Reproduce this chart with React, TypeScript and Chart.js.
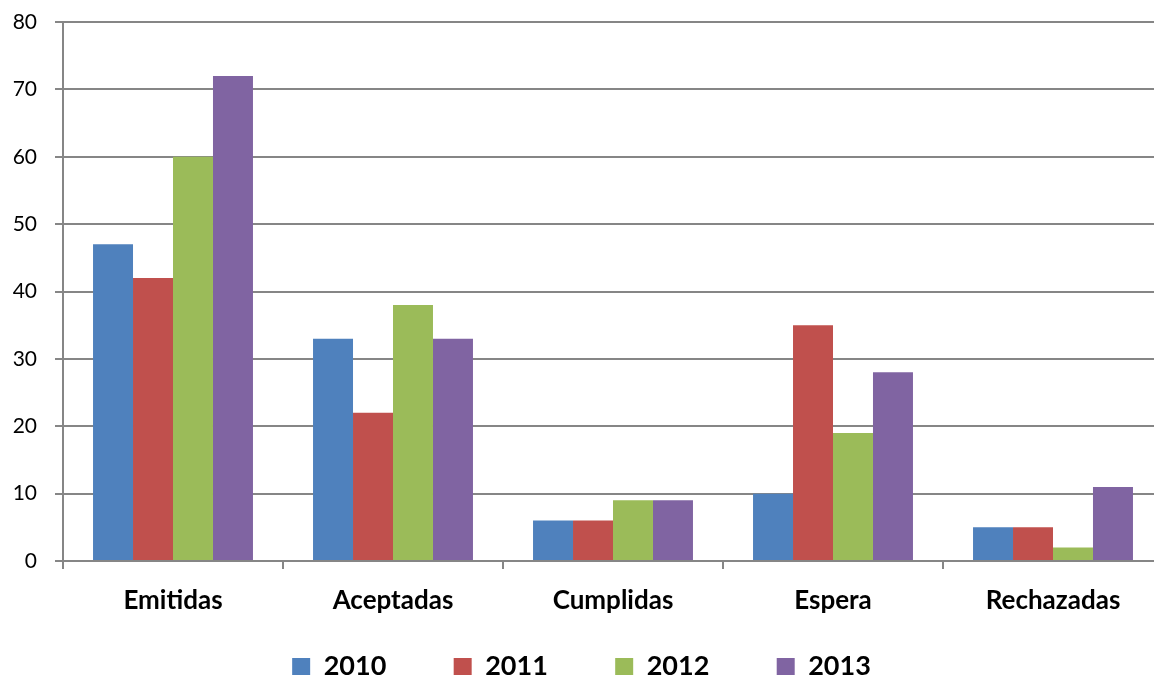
import React, { useEffect, useRef } from "react";
import { Chart, registerables } from "chart.js";

Chart.register(...registerables);

const categories = ["Emitidas", "Aceptadas", "Cumplidas", "Espera", "Rechazadas"];
const seriesNames = ["2010", "2011", "2012", "2013"];
const values2010 = [47, 33, 6, 10, 5];
const values2011 = [42, 22, 6, 35, 5];
const values2012 = [60, 38, 9, 19, 2];
const values2013 = [72, 33, 9, 28, 11];
const colors = ["#4F81BD", "#C0504D", "#9BBB59", "#8064A2"];

const FONT = "Lato, 'Open Sans', sans-serif";
const LEGEND_GAP = "\u2002\u2002\u2002\u2002\u2009";

export default function App() {
  const ref = useRef<HTMLCanvasElement | null>(null);
  useEffect(() => {
    if (!ref.current) return;
    const all = [values2010, values2011, values2012, values2013];
    const chart = new Chart(ref.current, {
      type: "bar",
      data: {
        labels: categories,
        datasets: seriesNames.map((n, i) => ({
          label: n,
          data: all[i],
          backgroundColor: colors[i],
          borderWidth: 0,
          categoryPercentage: 0.727,
          barPercentage: 1.0,
        })),
      },
      options: {
        responsive: false,
        animation: false,
        devicePixelRatio: 1,
        layout: { padding: { top: 22, right: 1, left: 0, bottom: 0 } },
        plugins: {
          tooltip: { enabled: false },
          legend: {
            position: "bottom",
            maxHeight: 34,
            labels: {
              boxWidth: 18,
              boxHeight: 17,
              padding: 10,
              color: "#000",
              font: { family: FONT, size: 27, weight: "bold" },
              generateLabels: (c: any) =>
                c.data.datasets.map((d: any, i: number) => ({
                  text: i < 3 ? d.label + LEGEND_GAP : d.label,
                  fillStyle: colors[i],
                  strokeStyle: colors[i],
                  lineWidth: 0,
                  hidden: false,
                  datasetIndex: i,
                  fontColor: "#000",
                })),
            },
          },
        },
        scales: {
          x: {
            offset: true,
            grid: {
              offset: true,
              drawOnChartArea: false,
              drawTicks: true,
              tickLength: 8,
              color: "#868686",
              lineWidth: 2,
            },
            border: { display: true, color: "#868686", width: 2 },
            ticks: {
              color: "#000",
              padding: 16,
              font: { family: FONT, size: 26, weight: "bold" },
            },
            afterFit: (s: any) => {
              s.height = 82;
              s.paddingLeft = 0;
              s.paddingRight = 0;
            },
          },
          y: {
            min: 0,
            max: 80,
            ticks: {
              stepSize: 10,
              color: "#000",
              padding: 18,
              font: { family: FONT, size: 21 },
            },
            grid: { color: "#868686", lineWidth: 2, tickLength: 8 },
            border: { display: true, color: "#868686", width: 2 },
            afterFit: (s: any) => {
              s.width = 63;
              s.paddingTop = 0;
              s.paddingBottom = 0;
            },
          },
        },
      } as any,
    });
    return () => chart.destroy();
  }, []);
  return (
    <div style={{ position: "fixed", left: 0, top: 0, width: 1164, height: 677, background: "#fff" }}>
      <canvas ref={ref} width={1164} height={677} style={{ width: 1164, height: 677 }} />
    </div>
  );
}
